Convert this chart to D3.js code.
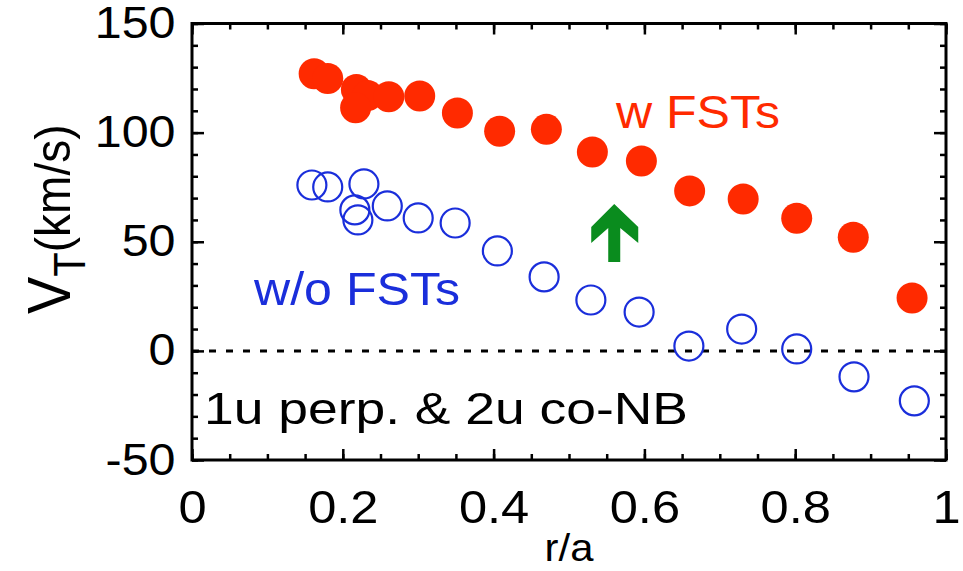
<!DOCTYPE html>
<html>
<head>
<meta charset="utf-8">
<script src="https://cdn.jsdelivr.net/npm/d3@7"></script>
<style>
  body { margin: 0; background: #fff; }
  svg text { font-family: "Liberation Sans", Arial, sans-serif; }
</style>
</head>
<body>
<svg id="chart" width="963" height="571"></svg>
<script>
// Data
const withFstR = [0.162, 0.180, 0.218, 0.233, 0.217, 0.261, 0.302, 0.352, 0.408, 0.470, 0.531, 0.596, 0.660, 0.731, 0.802, 0.877, 0.955];
const withFstV = [127.0, 124.8, 119.8, 117.0, 111.4, 116.4, 116.8, 109.0, 100.6, 101.5, 91.1, 87.0, 73.3, 69.6, 60.8, 52.1, 24.2];

const noFstR = [0.159, 0.180, 0.228, 0.216, 0.220, 0.259, 0.300, 0.349, 0.405, 0.467, 0.529, 0.593, 0.659, 0.729, 0.802, 0.878, 0.958];
const noFstV = [76.0, 75.1, 76.5, 64.6, 60.0, 66.4, 60.9, 58.6, 45.8, 33.9, 23.3, 17.8, 2.2, 10.0, 0.9, -11.9, -22.9];

const xTicks = [0, 0.2, 0.4, 0.6, 0.8, 1];
const yTicks = [-50, 0, 50, 100, 150];

// arrow annotation (data coords)
const arrowR = 0.56;
const arrowV = [40.7, 67.3];

// Layout
const svg = d3.select("#chart");
const mLeft = 192, mRight = 946, mTop = 23.5, mBottom = 460;
const stretch = 1.1; // the original figure is a bit wider than tall

const x = d3.scaleLinear().domain([0, 1]).range([mLeft, mRight]);
const y = d3.scaleLinear().domain([-50, 150]).range([mBottom, mTop]);

const fmtX = d => d === 0 || d === 1 ? String(d) : d3.format(".1f")(d);

// minor ticks on all four sides
const minorX = d3.range(0, 1.0001, 0.05);
const minorY = d3.range(-50, 150.001, 10);

function tickAxis(axis, scale, vals, size, g) {
  g.call(axis(scale).tickValues(vals).tickSize(size).tickFormat(""))
    .call(s => s.select(".domain").remove())
    .call(s => s.selectAll("line").attr("stroke", "#000").attr("stroke-width", 2.5));
}

tickAxis(d3.axisBottom, x, minorX, -6, svg.append("g").attr("transform", `translate(0,${mBottom})`));
tickAxis(d3.axisBottom, x, xTicks, -11, svg.append("g").attr("transform", `translate(0,${mBottom})`));
tickAxis(d3.axisTop, x, minorX, -6, svg.append("g").attr("transform", `translate(0,${mTop})`));
tickAxis(d3.axisTop, x, xTicks, -11, svg.append("g").attr("transform", `translate(0,${mTop})`));
tickAxis(d3.axisLeft, y, minorY, -6, svg.append("g").attr("transform", `translate(${mLeft},0)`));
tickAxis(d3.axisLeft, y, yTicks, -12, svg.append("g").attr("transform", `translate(${mLeft},0)`));
tickAxis(d3.axisRight, y, minorY, -6, svg.append("g").attr("transform", `translate(${mRight},0)`));
tickAxis(d3.axisRight, y, yTicks, -12, svg.append("g").attr("transform", `translate(${mRight},0)`));

// tick labels
svg.append("g").attr("transform", `translate(0,${mBottom})`)
  .call(d3.axisBottom(x).tickValues(xTicks).tickSize(0).tickPadding(30).tickFormat(fmtX))
  .call(g => g.select(".domain").remove())
  .call(g => g.selectAll("text").attr("font-size", 46).attr("fill", "#000")
    .attr("transform", `scale(${stretch},1)`)
    .attr("font-family", "Liberation Sans, Arial, sans-serif"));

svg.append("g").attr("transform", `translate(${mLeft},0)`)
  .call(d3.axisLeft(y).tickValues(yTicks).tickSize(0).tickPadding(15).tickFormat(d => String(d)))
  .call(g => g.select(".domain").remove())
  .call(g => g.selectAll("text").attr("font-size", 44).attr("fill", "#000")
    .attr("transform", `scale(${stretch},1)`)
    .attr("font-family", "Liberation Sans, Arial, sans-serif"));

// zero line
svg.append("line")
  .attr("x1", mLeft).attr("x2", mRight)
  .attr("y1", y(0)).attr("y2", y(0))
  .attr("stroke", "#000").attr("stroke-width", 3)
  .attr("stroke-dasharray", "7,10");

// frame
svg.append("rect")
  .attr("x", mLeft).attr("y", mTop)
  .attr("width", mRight - mLeft).attr("height", mBottom - mTop)
  .attr("fill", "none").attr("stroke", "#000").attr("stroke-width", 3);

// w/o FSTs: open blue circles
svg.append("g").selectAll("circle")
  .data(noFstR.map((r, i) => [r, noFstV[i]]))
  .join("circle")
  .attr("cx", d => x(d[0])).attr("cy", d => y(d[1])).attr("r", 14.5)
  .attr("fill", "none").attr("stroke", "#1a2edb").attr("stroke-width", 2.2);

// w FSTs: filled red circles
svg.append("g").selectAll("circle")
  .data(withFstR.map((r, i) => [r, withFstV[i]]))
  .join("circle")
  .attr("cx", d => x(d[0])).attr("cy", d => y(d[1])).attr("r", 15.5)
  .attr("fill", "#ff2a00");

// green arrow
const ax = x(arrowR), ay0 = y(arrowV[0]), ay1 = y(arrowV[1]);
const arrowPts = [
  [ax, ay1], [ax - 23, ay1 + 23], [ax - 23, ay1 + 39], [ax - 6, ay1 + 24],
  [ax - 6, ay0], [ax + 6, ay0], [ax + 6, ay1 + 24], [ax + 24, ay1 + 39], [ax + 24, ay1 + 23]
];
svg.append("path")
  .attr("d", d3.line()(arrowPts) + "Z")
  .attr("fill", "#0a8c1e");

// labels
svg.append("text").attr("x", 616).attr("y", 128)
  .attr("font-size", 46).attr("fill", "#ff2a00")
  .attr("textLength", 164).attr("lengthAdjust", "spacingAndGlyphs").text("w FSTs");
svg.append("text").attr("x", 254).attr("y", 305)
  .attr("font-size", 46).attr("fill", "#1a2edb")
  .attr("textLength", 206).attr("lengthAdjust", "spacingAndGlyphs").text("w/o FSTs");
svg.append("text").attr("x", 204).attr("y", 424)
  .attr("font-size", 44).attr("fill", "#000")
  .attr("textLength", 484).attr("lengthAdjust", "spacingAndGlyphs").text("1u perp. & 2u co-NB");

svg.append("text")
  .attr("transform", `translate(${(mLeft + mRight) / 2},561) scale(${stretch},1)`)
  .attr("text-anchor", "middle").attr("font-size", 38).text("r/a");

const yl = svg.append("text")
  .attr("transform", `translate(70,314) scale(${stretch},1) rotate(-90)`)
  .attr("font-size", 46);
yl.append("tspan").attr("font-size", 56).text("V");
yl.append("tspan").attr("font-size", 40).attr("dy", 14).text("T");
yl.append("tspan").attr("dy", -14).text("(km/s)");
</script>
</body>
</html>
